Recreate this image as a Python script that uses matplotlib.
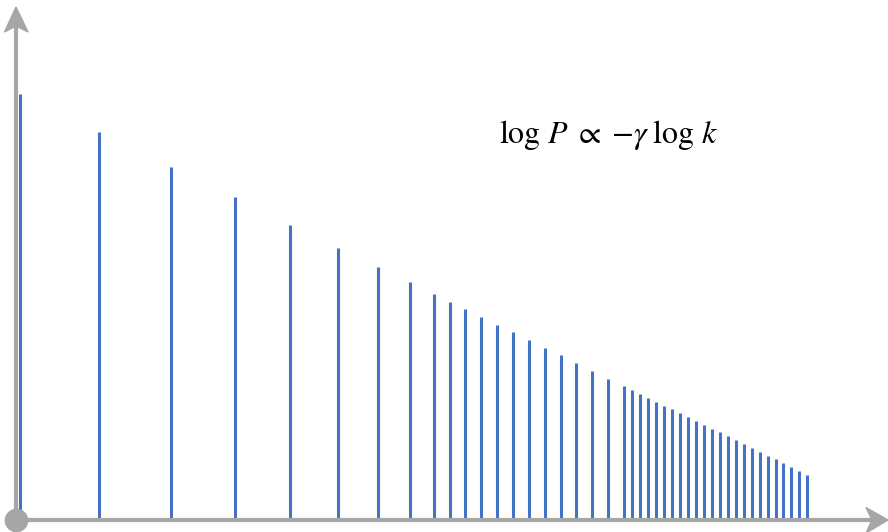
import matplotlib
matplotlib.use("Agg")
import matplotlib.pyplot as plt
from matplotlib.patches import Polygon

# stem positions (log k) and heights (log P), arbitrary units
log_k = [0.4, 8.3, 15.5, 21.9, 27.4, 32.2, 36.2, 39.4, 41.8, 43.4, 44.9,
         46.5, 48.1, 49.7, 51.3, 52.9, 54.5, 56.0, 57.6, 59.2, 60.8, 61.6,
         62.4, 63.2, 64.0, 64.8, 65.6, 66.4, 67.2, 68.0, 68.8, 69.6, 70.4,
         71.2, 72.0, 72.8, 73.6, 74.4, 75.2, 76.0, 76.7, 77.5, 78.3, 79.1]
log_p = [42.6, 38.8, 35.3, 32.3, 29.5, 27.2, 25.3, 23.8, 22.6, 21.8, 21.1,
         20.3, 19.5, 18.8, 18.0, 17.2, 16.5, 15.7, 14.9, 14.1, 13.4, 13.0,
         12.6, 12.2, 11.8, 11.4, 11.1, 10.7, 10.3, 9.9, 9.5, 9.1, 8.8,
         8.4, 8.0, 7.6, 7.2, 6.8, 6.4, 6.1, 5.7, 5.3, 4.9, 4.5]

formula = r"$\log\, P\; \propto\; {-}\gamma\;\log\, k$"

AXIS_GREY = "#A6A6A6"
STEM_BLUE = "#4472C4"

plt.rcParams["mathtext.fontset"] = "stix"

fig = plt.figure(figsize=(8.88, 5.32), dpi=100)
ax = fig.add_axes([0, 0, 1, 1])
ax.set_xlim(-1.6, 87.2)
ax.set_ylim(-1.2, 52.0)
ax.axis("off")

# stems
ax.vlines(log_k, 0.15, log_p, colors=STEM_BLUE, linewidth=2.2, zorder=2)

# axes with arrow heads
ax.plot([0, 85.6], [0, 0], color=AXIS_GREY, lw=3.0, solid_capstyle="butt", zorder=3)
ax.plot([0, 0], [0, 49.3], color=AXIS_GREY, lw=3.0, solid_capstyle="butt", zorder=1)
ax.add_patch(Polygon([[87.2, 0], [85.0, 1.25], [85.6, 0], [85.0, -1.3]],
                     closed=True, color=AXIS_GREY, zorder=3))
ax.add_patch(Polygon([[0, 51.3], [-1.15, 48.8], [0, 49.4], [1.2, 48.8]],
                     closed=True, color=AXIS_GREY, zorder=3))
ax.plot([0], [0], "o", color=AXIS_GREY, markersize=16, zorder=4)

ax.text(59.2, 37.7, formula, fontsize=23, ha="center", va="baseline")

fig.savefig("out.png", dpi=100, facecolor="white")
